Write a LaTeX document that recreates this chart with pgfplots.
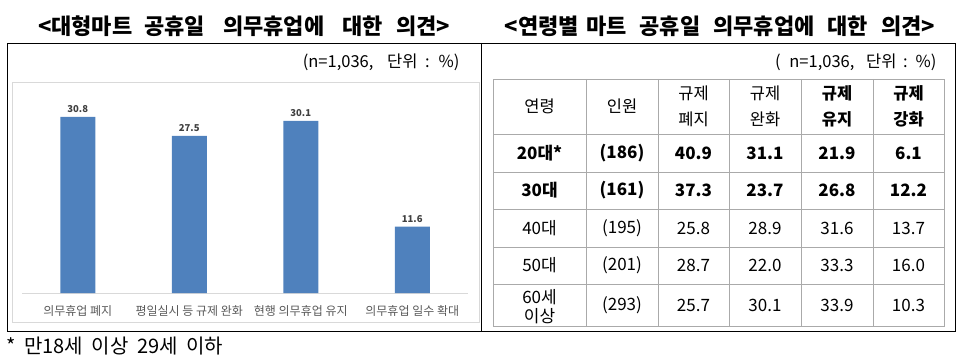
\documentclass[border=0pt]{standalone}
\usepackage{pgfplots}
\pgfplotsset{compat=1.18}
\usepackage{fontspec}
\setmainfont{Noto Sans CJK KR}
\definecolor{barblue}{RGB}{79,129,189}
\definecolor{lblgray}{RGB}{89,89,89}
\definecolor{numgray}{RGB}{64,64,64}
\definecolor{tblgray}{RGB}{170,170,170}
\definecolor{boxgray}{RGB}{217,217,217}
\newcommand{\fs}[1]{\fontsize{#1}{#1}\selectfont}
\newcommand{\trow}[8]{%
  \node[font=#2] at (539.5,#1) {#3};
  \node[font=#2] at (622,#1) {#4};
  \node[font=#2] at (693.5,#1) {#5};
  \node[font=#2] at (765,#1) {#6};
  \node[font=#2] at (837,#1) {#7};
  \node[font=#2] at (908.5,#1) {#8};}
\begin{document}
\begin{tikzpicture}[x=1pt,y=1pt]
\path[use as bounding box] (0,0) rectangle (964,362);
% titles
\node[font=\fs{22}\bfseries] at (244,336) {<대형마트\hspace{7pt} 공휴일\hspace{13pt} 의무휴업에\hspace{13pt} 대한\hspace{8pt} 의견>};
\node[font=\fs{22}\bfseries] at (720,336) {<연령별\hspace{2pt} 마트\hspace{8pt} 공휴일\hspace{8pt} 의무휴업에\hspace{8pt} 대한\hspace{8pt} 의견>};
% outer boxes
\draw[black, line width=0.9pt] (7,319) rectangle (955,31);
\draw[black, line width=0.9pt] (481,319) -- (481,31);
\draw[boxgray, line width=0.6pt] (12,280) rectangle (479,40);
% subtitles
\node[font=\fs{16.5}, anchor=east] at (463,300) {(n=1,036,\hspace{10pt} 단위\hspace{4pt} :\hspace{4pt} \%)};
\node[font=\fs{16.5}, anchor=east] at (940,300) {(\hspace{5pt} n=1,036,\hspace{8pt} 단위\hspace{3pt} :\hspace{3pt} \%)};
% bar chart
\begin{axis}[
  at={(22pt,69pt)}, anchor=south west,
  scale only axis, width=446pt, height=200pt,
  xmin=-0.5, xmax=3.5, ymin=0, ymax=35,
  hide y axis,
  axis x line*=bottom,
  x axis line style={draw=boxgray, line width=0.8pt, -},
  xtick=data,
  xticklabels={의무휴업 폐지, 평일실시 등 규제 완화, 현행 의무휴업 유지, 의무휴업 일수 확대},
  xtick style={draw=none},
  xticklabel style={font=\fs{12}, text=lblgray, yshift=-5pt},
  ybar, bar width=35pt,
  nodes near coords,
  nodes near coords style={font=\fs{9.5}\bfseries, text=numgray, yshift=1pt, /pgf/number format/.cd, fixed, fixed zerofill, precision=1, assume math mode=true},
  clip=false,
]
\addplot[fill=barblue, draw=none] coordinates {(0,30.8) (1,27.5) (2,30.1) (3,11.6)};
\end{axis}
% table grid
\draw[tblgray, line width=0.6pt] (493,283) rectangle (944,36);
\foreach \yy in {228,190,153,115,78} {\draw[tblgray, line width=0.6pt] (493,\yy) -- (944,\yy);}
\foreach \xx in {586,658,729,801,873} {\draw[tblgray, line width=0.6pt] (\xx,283) -- (\xx,36);}
% header
\node[font=\fs{16.5}] at (539.5,255.5) {연령};
\node[font=\fs{16.5}] at (622,255.5) {인원};
\node[font=\fs{16.5}] at (693.5,269) {규제};
\node[font=\fs{16.5}] at (693.5,243) {폐지};
\node[font=\fs{16.5}] at (765,269) {규제};
\node[font=\fs{16.5}] at (765,243) {완화};
\node[font=\fs{16.5}\bfseries] at (837,269) {규제};
\node[font=\fs{16.5}\bfseries] at (837,243) {유지};
\node[font=\fs{16.5}\bfseries] at (908.5,269) {규제};
\node[font=\fs{16.5}\bfseries] at (908.5,243) {강화};
% rows
\trow{209}{\fs{17}\bfseries}{20대*}{(186)}{40.9}{31.1}{21.9}{6.1}
\trow{171.5}{\fs{17}\bfseries}{30대}{(161)}{37.3}{23.7}{26.8}{12.2}
\trow{134}{\fs{17}}{40대}{(195)}{25.8}{28.9}{31.6}{13.7}
\trow{96.5}{\fs{17}}{50대}{(201)}{28.7}{22.0}{33.3}{16.0}
\trow{57}{\fs{17}}{}{(293)}{25.7}{30.1}{33.9}{10.3}
\node[font=\fs{17}] at (539.5,64.5) {60세};
\node[font=\fs{17}] at (539.5,46) {이상};
% footnote
\node[font=\fs{20}, anchor=west] at (3,16) {*\hspace{4pt} 만18세\hspace{4pt} 이상\hspace{4pt} 29세\hspace{4pt} 이하};
\end{tikzpicture}
\end{document}
